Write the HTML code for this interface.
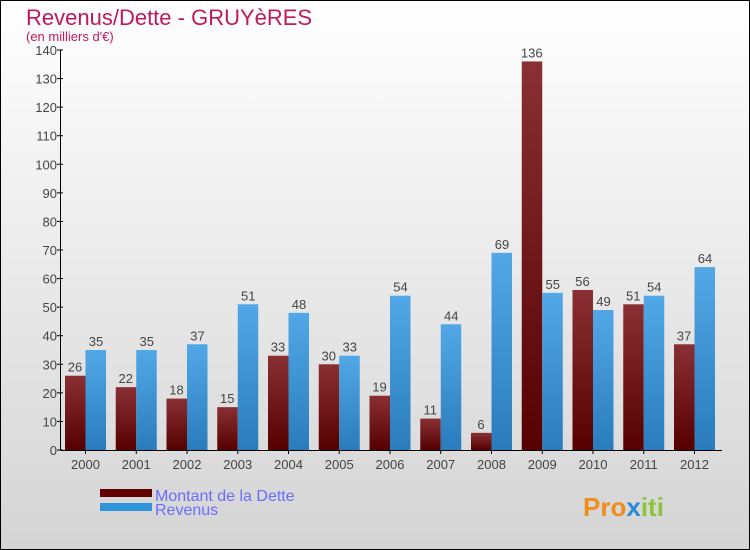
<!DOCTYPE html>
<html><head><meta charset="utf-8"><style>
body{margin:0}
#c{width:748px;height:548px;border:1px solid #000;background:linear-gradient(#fff,#d4d4d4);position:relative;font-family:"Liberation Sans",sans-serif}
</style></head><body>
<div id="c">
<svg id="s" width="748" height="548" style="position:absolute;left:0;top:0">
<defs>
<linearGradient id="gd" x1="0" y1="0" x2="0" y2="1"><stop offset="0" stop-color="#8a3034"/><stop offset="1" stop-color="#560000"/></linearGradient>
<linearGradient id="gr" x1="0" y1="0" x2="0" y2="1"><stop offset="0" stop-color="#52a8e6"/><stop offset="1" stop-color="#2a7cbc"/></linearGradient>
</defs>
<text x="25" y="24" font-size="22" fill="#c2185b">Revenus/Dette - GRUYèRES</text>
<text x="25" y="40" font-size="13" fill="#c2185b">(en milliers d'€)</text>
<g id="g"></g>
<rect x="99" y="488" width="52" height="8" fill="#600000"/>
<rect x="99" y="502" width="52" height="8" fill="#3094dc"/>
<text x="154" y="500" font-size="16" fill="#6b6bff">Montant de la Dette</text>
<text x="154" y="514" font-size="16" fill="#6b6bff">Revenus</text>
<text x="582" y="515" font-size="26" font-weight="bold" fill="#f08c1c">Pro<tspan fill="#2a8ad8">x</tspan><tspan fill="#8cc43c">iti</tspan></text>
</svg>
</div>
<script>
const years=["2000","2001","2002","2003","2004","2005","2006","2007","2008","2009","2010","2011","2012"];
const dette=[26,22,18,15,33,30,19,11,6,136,56,51,37];
const revenus=[35,35,37,51,48,33,54,44,69,55,49,54,64];
const yTicks=[0,10,20,30,40,50,60,70,80,90,100,110,120,130,140];
const NS="http://www.w3.org/2000/svg",g=document.getElementById('g');
const y=v=>449-v*400/140, x0=i=>64+i*50.75;
function mk(t,a,txt){const e=document.createElementNS(NS,t);for(const k in a)e.setAttribute(k,a[k]);if(txt!==undefined)e.textContent=txt;g.appendChild(e);return e;}
years.forEach((yr,i)=>{
 let e=mk('rect',{x:x0(i),y:y(dette[i]),width:20.5,height:449-y(dette[i]),fill:'url(#gd)'});
 
 
 e=mk('rect',{x:x0(i)+20.5,y:y(revenus[i]),width:20.5,height:449-y(revenus[i]),fill:'url(#gr)'});
 
 
 e=mk('text',{x:x0(i)+10,y:y(dette[i])-4,'font-size':13,fill:'#444','text-anchor':'middle'},dette[i]);
 
 
 e=mk('text',{x:x0(i)+31,y:y(revenus[i])-4,'font-size':13,fill:'#444','text-anchor':'middle'},revenus[i]);
 
 
 e=mk('text',{x:x0(i)+20.5,y:468,'font-size':13,fill:'#444','text-anchor':'middle'},yr);
 
 
 e=mk('line',{x1:x0(i)+20.5,x2:x0(i)+20.5,y1:449,y2:453,stroke:'#000'});
 
 
});
yTicks.forEach(v=>{
 let e=mk('text',{x:56,y:y(v)+5,'font-size':13,fill:'#444','text-anchor':'end'},v);
 
 
 e=mk('line',{x1:56,x2:62,y1:y(v),y2:y(v),stroke:'#000'});
 
 
});
let a=mk('line',{x1:59.5,x2:59.5,y1:y(140),y2:449.5,stroke:'#000'});


a=mk('line',{x1:59.5,x2:721,y1:449.5,y2:449.5,stroke:'#000'});


</script>
</body></html>
